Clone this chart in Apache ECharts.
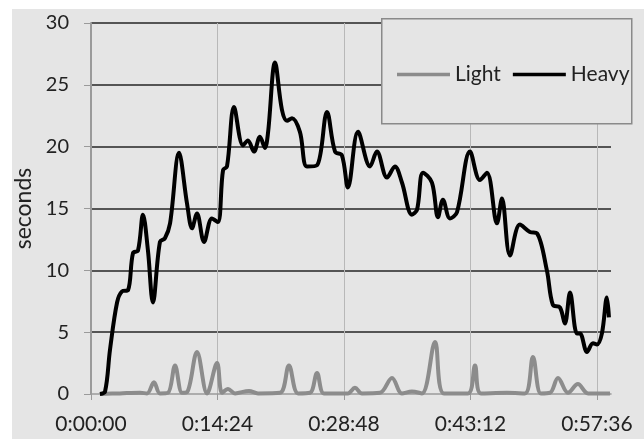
<!DOCTYPE html>
<html><head><meta charset="utf-8">
<script src="https://cdn.jsdelivr.net/npm/echarts@6/dist/echarts.min.js"></script>
<style>
html,body{margin:0;padding:0;background:#fff;}
#bg{position:absolute;left:12px;top:9px;width:632px;height:430px;background:#e5e5e5;}
#c{position:absolute;left:0;top:0;width:644px;height:441px;}
</style></head><body>
<div id="bg"></div><div id="c"></div>
<script>
// time in seconds, values in seconds
const heavyTimes = [61,96,130,178,212,253,287,321,355,389,423,471,505,540,601,656,690,724,772,826,867,902,929,977,1038,1072,1113,1154,1188,1209,1257,1304,1339,1373,1427,1475,1544,1612,1667,1714,1755,1824,1906,1953,2022,2076,2124,2192,2227,2268,2329,2370,2404,2452,2500,2589,2657,2705,2773,2807,2862,2930,2998,3046,3114,3155,3203,3237,3272,3319,3340,3388,3429,3456,3490,3524,3538];
const heavyValues = [0,0.2,3.6,7.4,8.3,8.4,11.4,11.6,14.5,11.6,7.4,12.3,12.6,13.8,19.5,15.4,13.4,14.6,12.3,14.2,13.9,18.1,18.4,23.2,20.1,20.5,19.6,20.8,19.9,21.1,26.8,23.0,22.1,22.3,21.2,18.4,18.5,22.8,19.6,19.3,16.7,21.2,18.4,19.6,17.5,18.4,17.1,14.5,14.9,17.9,17.1,14.3,15.7,14.2,14.7,19.6,17.3,17.9,13.8,15.8,11.2,13.7,13.1,13.0,10.0,7.2,7.0,5.7,8.2,4.9,4.9,3.4,4.1,4.0,4.9,7.8,6.2];
const lightTimes = [61,198,335,383,430,471,526,574,622,656,724,793,861,895,936,984,1079,1141,1291,1352,1414,1496,1544,1591,1700,1755,1803,1851,1974,2056,2124,2192,2261,2350,2411,2575,2623,2664,2841,2964,3019,3073,3135,3190,3258,3326,3395,3545];
const lightValues = [0,0.05,0.1,0.05,0.95,0.05,0.1,2.3,0.1,0.15,3.4,0.05,2.5,0.1,0.4,0.05,0.25,0.05,0.1,2.3,0.05,0.1,1.7,0.05,0.05,0.05,0.5,0.05,0.1,1.3,0.05,0.2,0.05,4.2,0.05,0.05,2.3,0.05,0.1,0.05,3.0,0.05,0.1,1.3,0.1,0.8,0.05,0.05];
const xTickInterval = 864;
const yTicks = [0,5,10,15,20,25,30];

function fmt(s){
  const h=Math.floor(s/3600), m=Math.floor((s%3600)/60), ss=Math.round(s%60);
  return h+':'+String(m).padStart(2,'0')+':'+String(ss).padStart(2,'0');
}
const pair=(t,v)=>t.map((x,i)=>[x,v[i]]);
const font='Lato';
const chart=echarts.init(document.getElementById('c'),null,{renderer:'canvas'});
chart.setOption({
  animation:false,
  backgroundColor:'transparent',
  textStyle:{fontFamily:font},
  grid:{left:91,right:33,top:23,bottom:47,containLabel:false},
  graphic:[{type:'rect',left:381,top:18,shape:{width:250,height:105},
    style:{fill:'#e5e5e5',stroke:'#8a8a8a',lineWidth:1.5},z:10}],
  legend:{left:392,top:59,z:20,icon:'rect',itemWidth:53,itemHeight:3.5,itemGap:12,
    textStyle:{fontFamily:font,fontSize:21,color:'#222'},
    data:['Light','Heavy']},
  xAxis:{type:'value',min:0,max:3552,interval:xTickInterval,
    axisLine:{onZero:false,lineStyle:{color:'#9a9a9a',width:1.5}},
    axisTick:{show:true,length:6,lineStyle:{color:'#9a9a9a'}},
    axisLabel:{fontFamily:font,fontSize:21,color:'#222',margin:20,
      showMaxLabel:false,formatter:v=>fmt(v)},
    splitLine:{show:true,showMinLine:false,showMaxLine:false,lineStyle:{color:'#b8b8b8',width:1}}},
  yAxis:{type:'value',min:yTicks[0],max:yTicks[yTicks.length-1],interval:5,
    name:'seconds',nameLocation:'middle',nameGap:49,
    nameTextStyle:{fontFamily:font,fontSize:23,color:'#222'},
    axisLine:{show:true,lineStyle:{color:'#9a9a9a',width:2}},
    axisTick:{show:true,length:7,lineStyle:{color:'#9a9a9a'}},
    axisLabel:{fontFamily:font,fontSize:20,color:'#222',margin:22},
    splitLine:{show:true,showMinLine:false,lineStyle:{color:'#555',width:2}}},
  series:[
    {name:'Light',type:'line',data:pair(lightTimes,lightValues),smooth:0.35,showSymbol:false,symbol:'none',
      lineStyle:{color:'#8c8c8c',width:4},itemStyle:{color:'#8c8c8c'}},
    {name:'Heavy',type:'line',data:pair(heavyTimes,heavyValues),smooth:0.35,showSymbol:false,symbol:'none',
      lineStyle:{color:'#000',width:4},itemStyle:{color:'#000'}}
  ]
});
</script></body></html>
